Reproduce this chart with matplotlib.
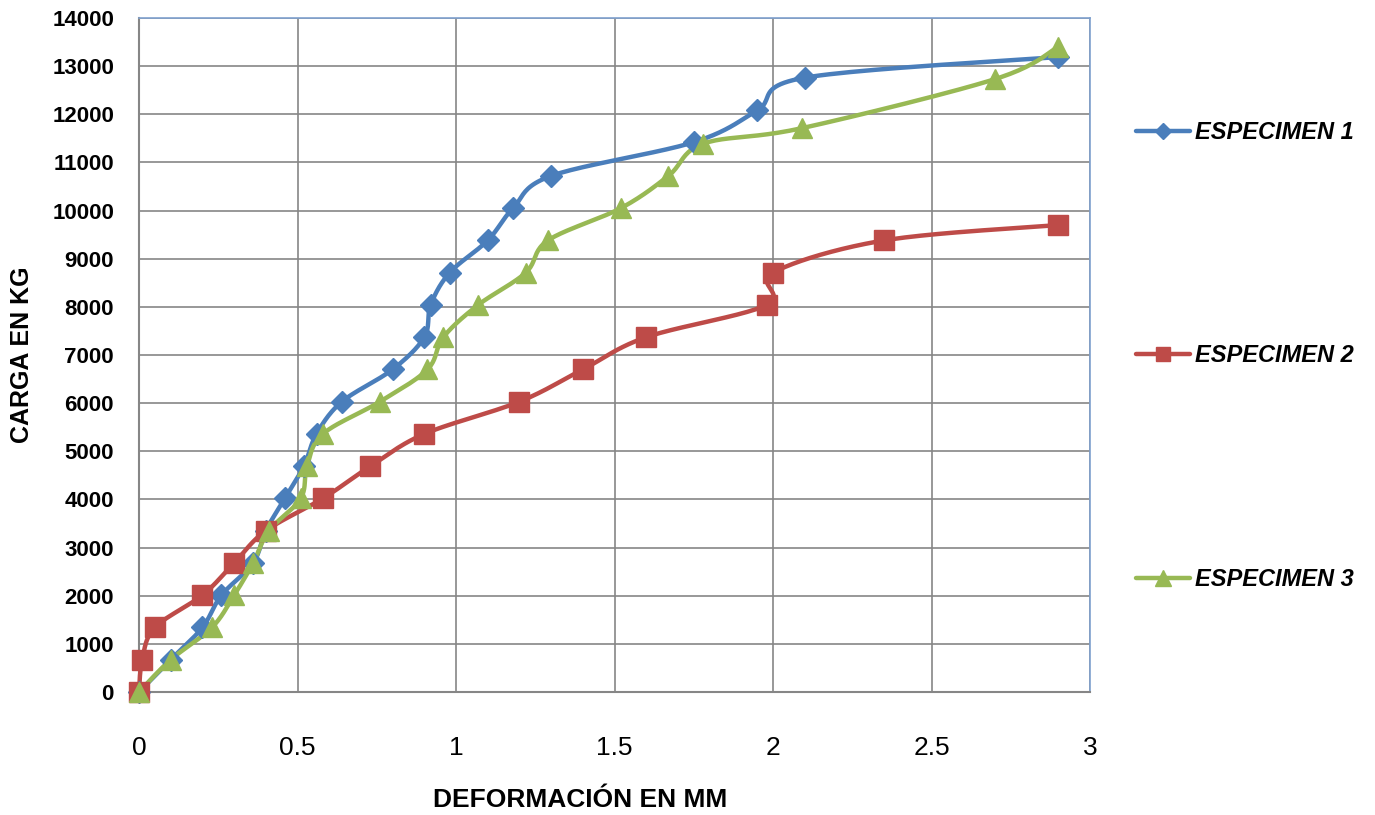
import numpy as np
import matplotlib
matplotlib.use('Agg')
import matplotlib.pyplot as plt

# deformacion (mm) y carga (kg)
def_1 = [0, 0.10, 0.20, 0.26, 0.36, 0.40, 0.46, 0.52, 0.56, 0.64, 0.80, 0.90, 0.92, 0.98, 1.10, 1.18, 1.30, 1.75, 1.95, 2.10, 2.90]
carga_1 = [0, 670, 1340, 2010, 2680, 3350, 4020, 4690, 5360, 6030, 6700, 7370, 8040, 8710, 9380, 10050, 10720, 11420, 12080, 12760, 13190]

def_2 = [0, 0.01, 0.05, 0.20, 0.30, 0.40, 0.58, 0.73, 0.90, 1.20, 1.40, 1.60, 1.98, 2.00, 2.35, 2.90]
carga_2 = [0, 670, 1340, 2010, 2680, 3350, 4020, 4690, 5360, 6030, 6700, 7370, 8040, 8710, 9380, 9700]

def_3 = [0, 0.10, 0.23, 0.30, 0.36, 0.41, 0.51, 0.53, 0.58, 0.76, 0.91, 0.96, 1.07, 1.22, 1.29, 1.52, 1.67, 1.78, 2.09, 2.70, 2.90]
carga_3 = [0, 670, 1340, 2010, 2680, 3350, 4020, 4690, 5360, 6030, 6700, 7370, 8040, 8710, 9380, 10050, 10720, 11390, 11710, 12730, 13400]

nombres = ['ESPECIMEN 1', 'ESPECIMEN 2', 'ESPECIMEN 3']
x_ticks = [0, 0.5, 1, 1.5, 2, 2.5, 3]
y_ticks = list(range(0, 14001, 1000))


def suavizar(xs, ys, n=24):
    # curva suavizada tipo excel (bezier con tangentes catmull-rom)
    p = np.column_stack([xs, ys]).astype(float)
    out = [p[0]]
    for i in range(len(p) - 1):
        p0 = p[i - 1] if i > 0 else p[i]
        p3 = p[i + 2] if i + 2 < len(p) else p[i + 1]
        c1 = p[i] + (p[i + 1] - p0) / 6
        c2 = p[i + 1] - (p3 - p[i]) / 6
        t = np.linspace(0, 1, n)[1:, None]
        seg = ((1 - t) ** 3) * p[i] + 3 * ((1 - t) ** 2) * t * c1 + 3 * (1 - t) * t ** 2 * c2 + t ** 3 * p[i + 1]
        out.extend(seg)
    out = np.array(out)
    return out[:, 0], out[:, 1]


fig = plt.figure(figsize=(13.75, 8.15), dpi=100)
ax = fig.add_axes([139 / 1375, 1 - 692 / 815, 951 / 1375, 674 / 815])

series = [(def_1, carga_1, '#4A7EBB', 'D', 11),
          (def_2, carga_2, '#BE4B48', 's', 14),
          (def_3, carga_3, '#98B954', '^', 15)]

handles = []
for (xs, ys, col, mk, ms), nom in zip(series, nombres):
    sx, sy = suavizar(xs, ys)
    ax.plot(sx, sy, color=col, lw=3.2, clip_on=False, zorder=3, solid_capstyle='round')
    ax.plot(xs, ys, ls='none', marker=mk, ms=ms, color=col, clip_on=False, zorder=4)
    h, = ax.plot([], [], color=col, lw=3.2, marker=mk, ms=ms * 0.75, solid_capstyle='round')
    handles.append(h)

ax.set_xlim(0, 3)
ax.set_ylim(0, 14000)
ax.set_xticks(x_ticks)
ax.set_xticklabels([f'{v:g}' for v in x_ticks], fontsize=19, family='Liberation Sans')
ax.set_yticks(y_ticks)
ax.set_yticklabels([str(v) for v in y_ticks], fontsize=16, fontweight='bold', family='Liberation Sans')
ax.tick_params(axis='both', length=0)
ax.tick_params(axis='x', pad=32)
ax.tick_params(axis='y', pad=18)
ax.grid(True, color='#868686', lw=1.2)
ax.set_axisbelow(True)

for s in ['left', 'bottom']:
    ax.spines[s].set_color('#868686')
    ax.spines[s].set_linewidth(1.5)
for s in ['top', 'right']:
    ax.spines[s].set_color('#7FA1CE')
    ax.spines[s].set_linewidth(1.2)

ax.set_xlabel('DEFORMACIÓN EN MM', fontsize=19, fontweight='bold', family='Liberation Sans')
ax.xaxis.set_label_coords(0.464, -0.16)
ax.xaxis.label.set_va('center')
ax.set_ylabel('CARGA EN KG', fontsize=18, fontweight='bold', family='Liberation Sans')
ax.yaxis.set_label_coords(-0.123, 0.5)
ax.yaxis.label.set_va('center')

leg = fig.legend(handles, nombres, loc='center left', bbox_to_anchor=(1136 / 1375, 1 - 356 / 815),
                 frameon=False, handlelength=2.3, handletextpad=0.2, labelspacing=8.5,
                 borderpad=0, borderaxespad=0,
                 prop={'family': 'Liberation Sans', 'weight': 'bold', 'style': 'italic', 'size': 17})

fig.savefig('out.png', dpi=100)
